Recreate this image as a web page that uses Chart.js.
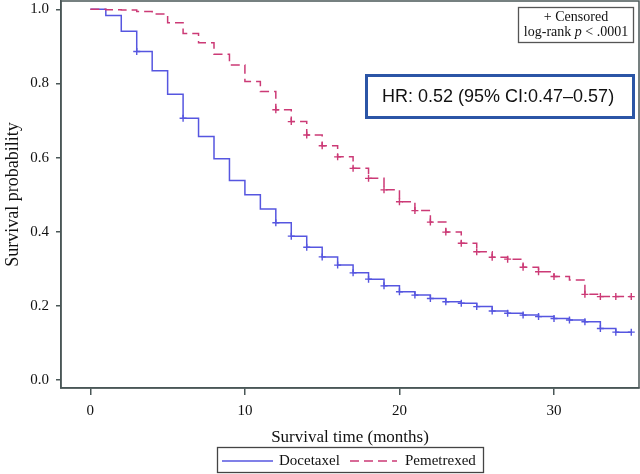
<!DOCTYPE html>
<html><head><meta charset="utf-8">
<script src="https://cdn.jsdelivr.net/npm/chart.js@4.4.1/dist/chart.umd.min.js"></script>
<style>html,body{margin:0;padding:0;background:#fff}#wrap{width:640px;height:474px}</style>
</head><body><div id="wrap"><canvas id="c" width="640" height="474"></canvas></div>
<script>
// ---- data ----
const months = [0,1,2,3,4,5,6,7,8,9,10,11,12,13,14,15,16,17,18,19,20,21,22,23,24,25,26,27,28,29,30,31,32,33,34,35];
const docetaxel = [1.0,0.983,0.941,0.886,0.834,0.771,0.706,0.657,0.597,0.538,0.500,0.461,0.424,0.388,0.358,0.332,0.310,0.289,0.272,0.254,0.238,0.229,0.220,0.211,0.207,0.198,0.186,0.180,0.175,0.171,0.166,0.162,0.157,0.139,0.129,0.129];
const pemetrexed = [1.0,0.999,0.998,0.994,0.987,0.964,0.935,0.910,0.879,0.850,0.805,0.778,0.729,0.697,0.661,0.632,0.602,0.571,0.544,0.513,0.481,0.457,0.426,0.399,0.369,0.346,0.331,0.326,0.304,0.292,0.279,0.270,0.231,0.225,0.225,0.225];
const docetaxelCensored = [3,6,12,13,14,15,16,17,18,19,20,21,22,23,24,25,26,27,28,29,30,31,32,33,34,35];
const pemetrexedCensored = [12,13,14,15,16,17,18,19,20,21,22,23,24,25,26,27,28,29,30,32,33,34,35];
const seriesNames = ['Docetaxel','Pemetrexed'];
const xTicks = [0,10,20,30];
const yTicks = [0.0,0.2,0.4,0.6,0.8,1.0];
const xTitle = 'Survival time (months)';
const yTitle = 'Survival probability';
const noteLine1 = '+ Censored';
const noteLine2 = ['log-rank ', 'p', ' < .0001'];
const hrText = 'HR: 0.52 (95% CI:0.47\u20130.57)';

// ---- styling ----
const BLUE = '#5656e0';
const RED = '#cc3a76';
const AXIS = '#4a5757';
const SERIF = '"Liberation Serif","Times New Roman",serif';
const SANS = '"Liberation Sans",Arial,sans-serif';

const toPts = (vals) => months.map((m,i)=>({x:m,y:vals[i]}));
const censorPts = (cm, vals) => cm.map(m=>({x:m,y:vals[months.indexOf(m)]}));

const decor = {
  id:'decor',
  afterDraw(chart){
    const ctx = chart.ctx, a = chart.chartArea;
    ctx.save();
    // frame
    ctx.strokeStyle = AXIS; ctx.lineWidth = 1.5;
    ctx.strokeRect(a.left, a.top, a.right-a.left, a.bottom-a.top);
    // censor/log-rank note box
    ctx.lineWidth = 1.3; ctx.strokeStyle = '#555';
    ctx.strokeRect(518.5, 7.5, 115, 35);
    ctx.fillStyle = '#111'; ctx.textBaseline = 'alphabetic'; ctx.textAlign = 'left';
    ctx.font = '14px ' + SERIF;
    let w1 = ctx.measureText(noteLine1).width;
    ctx.fillText(noteLine1, 576 - w1/2, 21);
    const fonts = ['14px '+SERIF, 'italic 14px '+SERIF, '14px '+SERIF];
    let widths = noteLine2.map((t,i)=>{ctx.font=fonts[i];return ctx.measureText(t).width;});
    let tot = widths.reduce((s,v)=>s+v,0);
    let x = 576 - tot/2;
    noteLine2.forEach((t,i)=>{ctx.font=fonts[i];ctx.fillText(t,x,36);x+=widths[i];});
    // HR box
    ctx.lineWidth = 3; ctx.strokeStyle = '#2b55a6';
    ctx.strokeRect(366.5, 75.5, 267, 42);
    ctx.font = '18px ' + SANS; ctx.fillStyle = '#111'; ctx.textBaseline = 'middle';
    ctx.fillText(hrText, 382, 97);
    // legend
    ctx.lineWidth = 1.3; ctx.strokeStyle = '#444';
    ctx.strokeRect(217.5, 447.5, 266, 25);
    ctx.lineWidth = 1.5;
    ctx.strokeStyle = BLUE; ctx.setLineDash([]);
    ctx.beginPath(); ctx.moveTo(222, 461); ctx.lineTo(273, 461); ctx.stroke();
    ctx.strokeStyle = RED; ctx.setLineDash([9,5]);
    ctx.beginPath(); ctx.moveTo(350, 461); ctx.lineTo(397, 461); ctx.stroke();
    ctx.setLineDash([]);
    ctx.font = '15px ' + SERIF; ctx.fillStyle = '#111'; ctx.textBaseline = 'middle';
    ctx.fillText(seriesNames[0], 279, 461);
    ctx.fillText(seriesNames[1], 405, 461);
    ctx.restore();
  }
};

new Chart(document.getElementById('c'), {
  type: 'scatter',
  data: {
    datasets: [
      {label: seriesNames[0], data: toPts(docetaxel), showLine: true, stepped: true, borderColor: BLUE, borderWidth: 1.5, pointRadius: 0, fill: false, order: 2},
      {label: seriesNames[1], data: toPts(pemetrexed), showLine: true, stepped: true, borderColor: RED, borderWidth: 1.5, borderDash: [9,5], pointRadius: 0, fill: false, order: 1},
      {label: seriesNames[0]+' censored', data: censorPts(docetaxelCensored, docetaxel), showLine: false, pointStyle: 'cross', pointRadius: 3.5, pointBorderWidth: 1.4, borderColor: BLUE, backgroundColor: BLUE},
      {label: seriesNames[1]+' censored', data: censorPts(pemetrexedCensored, pemetrexed), showLine: false, pointStyle: 'cross', pointRadius: 3.5, pointBorderWidth: 1.4, borderColor: RED, backgroundColor: RED}
    ]
  },
  options: {
    responsive: false, animation: false, devicePixelRatio: 1,
    layout: {autoPadding: false, padding: {top: 1, right: 1, left: 0, bottom: 0}},
    plugins: {legend: {display: false}, tooltip: {enabled: false}},
    scales: {
      x: {
        type: 'linear', min: -1.9, max: 35.5,
        afterBuildTicks: s => { s.ticks = xTicks.map(v=>({value:v})); },
        afterFit: s => { s.height = 86; s.paddingLeft = 0; s.paddingRight = 0; },
        grid: {display: true, drawOnChartArea: false, drawTicks: true, tickLength: 7, color: AXIS, lineWidth: 1.5},
        border: {display: true, color: AXIS, width: 1.5},
        ticks: {font: {family: SERIF, size: 15}, color: '#111', padding: 7, maxRotation: 0},
        title: {display: true, text: xTitle, font: {family: SERIF, size: 17}, color: '#111', padding: {top: 0, bottom: 26}}
      },
      y: {
        type: 'linear', min: -0.0216, max: 1.0224,
        afterBuildTicks: s => { s.ticks = yTicks.map(v=>({value:v})); },
        afterFit: s => { s.width = 61; s.paddingTop = 0; s.paddingBottom = 0; },
        grid: {display: true, drawOnChartArea: false, drawTicks: true, tickLength: 5, color: AXIS, lineWidth: 1.5},
        border: {display: true, color: AXIS, width: 1.5},
        ticks: {font: {family: SERIF, size: 15}, color: '#111', padding: 7, callback: v => v.toFixed(1)},
        title: {display: true, text: yTitle, font: {family: SERIF, size: 18}, color: '#111', padding: {top: 2, bottom: 0}}
      }
    }
  },
  plugins: [decor]
});
</script></body></html>
